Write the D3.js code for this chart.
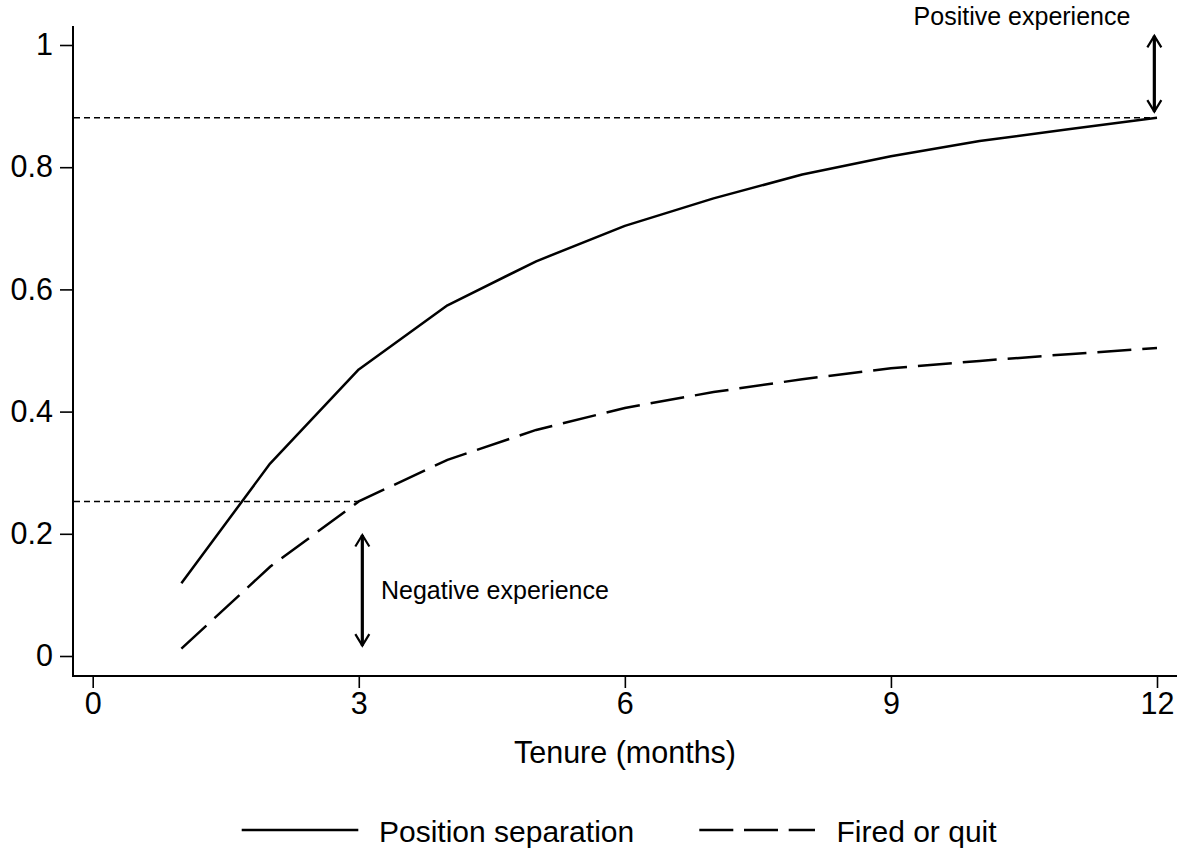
<!DOCTYPE html>
<html>
<head>
<meta charset="utf-8">
<script src="https://cdn.jsdelivr.net/npm/d3@7"></script>
<style>
  html, body { margin: 0; padding: 0; background: #fff; }
  svg { display: block; font-family: "Liberation Sans", Arial, Helvetica, sans-serif; }
</style>
</head>
<body>
<svg id="chart" width="1184" height="850"></svg>
<script>
// Tenure in months and cumulative separation shares
const months = [1, 2, 3, 4, 5, 6, 7, 8, 9, 10, 11, 12];
const positionSeparation = [0.119, 0.315, 0.469, 0.574, 0.646, 0.704, 0.749, 0.788, 0.818, 0.843, 0.862, 0.881];
const firedOrQuit = [0.012, 0.146, 0.253, 0.321, 0.370, 0.406, 0.432, 0.453, 0.471, 0.483, 0.494, 0.504];

const xTicks = [0, 3, 6, 9, 12];
const yTicks = [0, 0.2, 0.4, 0.6, 0.8, 1];
const yTickLabels = ["0", "0.2", "0.4", "0.6", "0.8", "1"];

// Reference levels and annotated gaps
const positiveLevel = 0.881;   // position separation at 12 months
const negativeLevel = 0.253;   // fired or quit at 3 months
const positiveArrow = { x: 11.97, y0: 1.015, y1: 0.891, label: "Positive experience" };
const negativeArrow = { x: 3.04, y0: 0.198, y1: 0.017, label: "Negative experience" };

const seriesNames = ["Position separation", "Fired or quit"];

const svg = d3.select("#chart");
const x = d3.scaleLinear().domain([0, 12]).range([92.7, 1157]);
const y = d3.scaleLinear().domain([0, 1]).range([656, 45]);

const axisLeftX = 73, axisBottomY = 676;

// arrowhead marker (open V)
const defs = svg.append("defs");
defs.append("marker")
  .attr("id", "vhead")
  .attr("markerUnits", "userSpaceOnUse")
  .attr("viewBox", "-15 -10 18 20")
  .attr("refX", 0).attr("refY", 0)
  .attr("markerWidth", 18).attr("markerHeight", 20)
  .attr("orient", "auto-start-reverse")
  .append("path")
  .attr("d", "M-11.5,-7 L0,0 L-11.5,7")
  .attr("fill", "none").attr("stroke", "#000").attr("stroke-width", 2.2);

// axes
const yAxis = d3.axisLeft(y).tickValues(yTicks)
  .tickFormat((d, i) => yTickLabels[i]).tickSize(13).tickPadding(7);
const gy = svg.append("g").attr("transform", `translate(${axisLeftX},0)`).call(yAxis);
gy.select(".domain").remove();
gy.selectAll(".tick line").attr("stroke", "#000").attr("stroke-width", 1.6);
gy.selectAll(".tick text").attr("font-size", 30.5).attr("fill", "#000")
  .attr("font-family", "'Liberation Sans', Arial, sans-serif");

const xAxis = d3.axisBottom(x).tickValues(xTicks).tickFormat(d3.format("d"))
  .tickSize(12).tickPadding(4);
const gx = svg.append("g").attr("transform", `translate(0,${axisBottomY})`).call(xAxis);
gx.select(".domain").remove();
gx.selectAll(".tick line").attr("stroke", "#000").attr("stroke-width", 1.6);
gx.selectAll(".tick text").attr("font-size", 30.5).attr("fill", "#000")
  .attr("font-family", "'Liberation Sans', Arial, sans-serif");

svg.append("line").attr("x1", axisLeftX).attr("x2", axisLeftX)
  .attr("y1", 26).attr("y2", axisBottomY + 1)
  .attr("stroke", "#000").attr("stroke-width", 2);
svg.append("line").attr("x1", axisLeftX - 1).attr("x2", 1177)
  .attr("y1", axisBottomY).attr("y2", axisBottomY)
  .attr("stroke", "#000").attr("stroke-width", 2);

svg.append("text").attr("x", 625).attr("y", 763)
  .attr("text-anchor", "middle").attr("font-size", 30.5)
  .text("Tenure (months)");

// reference levels
svg.append("line")
  .attr("x1", axisLeftX + 1).attr("x2", x(12))
  .attr("y1", y(positiveLevel)).attr("y2", y(positiveLevel))
  .attr("stroke", "#000").attr("stroke-width", 1.5).attr("stroke-dasharray", "6,4");
svg.append("line")
  .attr("x1", axisLeftX + 1).attr("x2", x(3))
  .attr("y1", y(negativeLevel)).attr("y2", y(negativeLevel))
  .attr("stroke", "#000").attr("stroke-width", 1.5).attr("stroke-dasharray", "6,4");

// series
const line = d3.line().x(d => x(d[0])).y(d => y(d[1]));
svg.append("path")
  .datum(months.map((m, i) => [m, positionSeparation[i]]))
  .attr("d", line).attr("fill", "none")
  .attr("stroke", "#000").attr("stroke-width", 2.5).attr("stroke-linejoin", "round");
svg.append("path")
  .datum(months.map((m, i) => [m, firedOrQuit[i]]))
  .attr("d", line).attr("fill", "none")
  .attr("stroke", "#000").attr("stroke-width", 2.5)
  .attr("stroke-dasharray", "34,11");

// gap arrows
[positiveArrow, negativeArrow].forEach(a => {
  svg.append("line")
    .attr("x1", x(a.x)).attr("x2", x(a.x))
    .attr("y1", y(a.y0)).attr("y2", y(a.y1))
    .attr("stroke", "#000").attr("stroke-width", 3.2)
    .attr("marker-start", "url(#vhead)").attr("marker-end", "url(#vhead)");
});
svg.append("text").attr("x", 1022).attr("y", 25)
  .attr("text-anchor", "middle").attr("font-size", 25)
  .text(positiveArrow.label);
svg.append("text").attr("x", 381).attr("y", 599)
  .attr("text-anchor", "start").attr("font-size", 25)
  .text(negativeArrow.label);

// legend
const legend = svg.append("g");
legend.append("line").attr("x1", 241.7).attr("x2", 358.3)
  .attr("y1", 830).attr("y2", 830)
  .attr("stroke", "#000").attr("stroke-width", 2.5);
legend.append("text").attr("x", 379).attr("y", 842).attr("font-size", 30)
  .text(seriesNames[0]);
legend.append("line").attr("x1", 699.3).attr("x2", 815)
  .attr("y1", 830).attr("y2", 830)
  .attr("stroke", "#000").attr("stroke-width", 2.5).attr("stroke-dasharray", "34,10.7");
legend.append("text").attr("x", 836.5).attr("y", 842).attr("font-size", 30)
  .text(seriesNames[1]);
</script>
</body>
</html>
